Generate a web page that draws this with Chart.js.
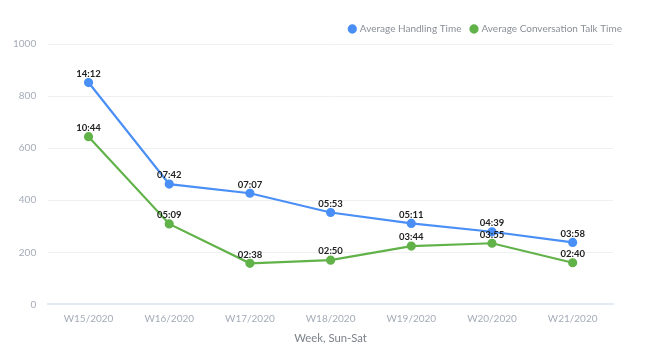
<!DOCTYPE html>
<html><head><meta charset="utf-8">
<script src="https://cdn.jsdelivr.net/npm/chart.js@4"></script>
<style>html,body{margin:0;padding:0;background:#fff;}#wrap{width:659px;height:356px;}</style>
</head><body><div id="wrap"><canvas id="c"></canvas></div>
<script>
const categories = ["W15/2020","W16/2020","W17/2020","W18/2020","W19/2020","W20/2020","W21/2020"];
const handlingLabels = ["14:12","07:42","07:07","05:53","05:11","04:39","03:58"];
const talkLabels = ["10:44","05:09","02:38","02:50","03:44","03:55","02:40"];
const toSec = s => { const [m, x] = s.split(":").map(Number); return m * 60 + x; };
const handlingValues = handlingLabels.map(toSec);
const talkValues = talkLabels.map(toSec);
const yTicks = [0, 200, 400, 600, 800, 1000];

const labelPlugin = {
  id: "dl",
  afterDatasetsDraw(chart) {
    const ctx = chart.ctx;
    ctx.save();
    ctx.font = "bold 9.5px Lato, 'DejaVu Sans', sans-serif";
    ctx.fillStyle = "#222";
    ctx.textAlign = "center";
    ctx.textBaseline = "bottom";
    chart.data.datasets.forEach((ds, i) => {
      const meta = chart.getDatasetMeta(i);
      meta.data.forEach((pt, j) => {
        ctx.fillText(ds.timeLabels[j], pt.x, pt.y - 4);
      });
    });
    ctx.restore();
  }
};

new Chart(document.getElementById("c"), {
  type: "line",
  data: {
    labels: categories,
    datasets: [
      { label: "Average Handling Time", data: handlingValues, timeLabels: handlingLabels,
        borderColor: "#4a8ff5", backgroundColor: "#4a8ff5", borderWidth: 2.2,
        pointRadius: 3.5, pointHoverRadius: 3.5, tension: 0 },
      { label: "Average Conversation Talk Time", data: talkValues, timeLabels: talkLabels,
        borderColor: "#62b24a", backgroundColor: "#62b24a", borderWidth: 2.2,
        pointRadius: 3.5, pointHoverRadius: 3.5, tension: 0 }
    ]
  },
  options: {
    responsive: true, maintainAspectRatio: false, animation: false,
    layout: { padding: { left: 1, right: 27, top: 14, bottom: 7 } },
    plugins: {
      legend: { position: "top", align: "end",
        labels: { usePointStyle: true, pointStyle: "circle", boxWidth: 5, boxHeight: 5,
          color: "#8a8f96", font: { family: "Lato", size: 10 }, padding: 10 } },
      tooltip: { enabled: false }
    },
    scales: {
      x: { offset: true,
        grid: { display: false },
        border: { display: true, color: "#e3eaf5", width: 2 },
        ticks: { color: "#a5acb8", font: { family: "Lato", size: 10 }, padding: 0, maxRotation: 0 },
        title: { display: true, text: "Week, Sun-Sat", color: "#7c818a", font: { family: "Lato", size: 11.3 }, padding: { top: 7 } } },
      y: { min: 0, max: 1000,
        afterBuildTicks: ax => { ax.ticks = yTicks.map(v => ({ value: v })); },
        grid: { color: "#eef0f3", drawTicks: false },
        border: { display: false },
        ticks: { color: "#a5acb8", font: { family: "Lato", size: 10 }, padding: 12, callback: v => String(v) } },
      yR: { position: "right", display: true, min: 0, max: 1000,
        grid: { display: false }, border: { display: false },
        ticks: { display: false },
        afterFit: s => { s.width = 19; } }
    }
  },
  plugins: [labelPlugin]
});
</script></body></html>
